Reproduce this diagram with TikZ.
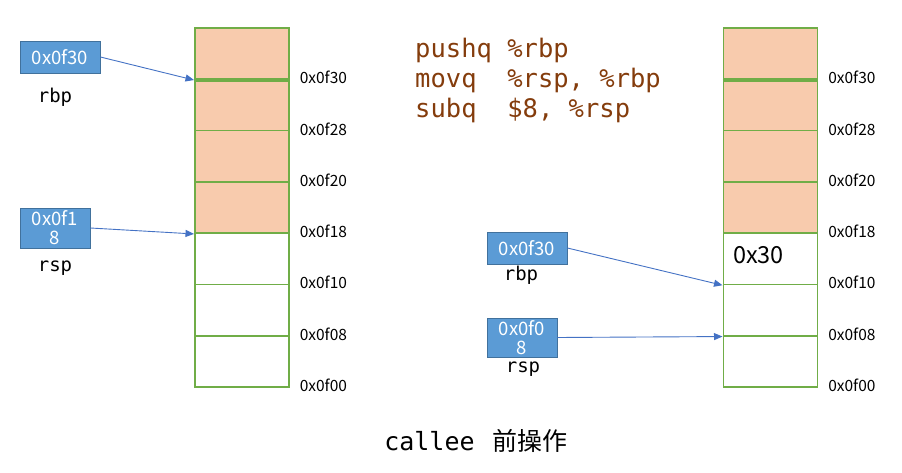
\documentclass[tikz,border=0pt]{standalone}
\usepackage{fontspec}
\setmainfont{Noto Sans CJK SC}
\newfontfamily\codefont{DejaVu Sans Mono}
\usepackage{tikz}
\usetikzlibrary{arrows.meta}
\usetikzlibrary{positioning}

\definecolor{peach}{HTML}{F8CBAD}
\definecolor{stackgreen}{HTML}{70AD47}
\definecolor{regblue}{HTML}{5B9BD5}
\definecolor{regborder}{HTML}{41719C}
\definecolor{arrowblue}{HTML}{4472C4}
\definecolor{codebrown}{HTML}{843C0C}

\begin{document}
\begin{tikzpicture}[x=1pt,y=-1pt,>={Triangle[length=8.5pt,width=7pt]},node distance=51.3pt,
	cell/.style={draw=stackgreen,line width=1.6pt,minimum width=94pt,minimum height=51.3pt,inner sep=0pt},
	used/.style={cell,fill=peach},
	addr/.style={font=\fontsize{15.5}{17}\selectfont,inner sep=0pt,yshift=2.5pt},
	reg/.style={draw=regborder,fill=regblue,text=white,line width=0.8pt,inner sep=0pt,align=center,font=\fontsize{18.5}{19}\selectfont},
	regname/.style={font=\codefont\fontsize{19}{20}\selectfont,inner sep=0pt}]

				\useasboundingbox (0,0) rectangle (902,473);

				% left stack
				\node[used] (L1) at (241.8,53.6) {};
				\node[used] (L2) [below of = L1] {};
				\node[used] (L3) [below of = L2] {};
				\node[used] (L4) [below of = L3] {};
				\node[cell] (L5) [below of = L4] {};
				\node[cell] (L6) [below of = L5] {};
				\node[cell] (L7) [below of = L6] {};
				\draw[stackgreen,line width=3pt] (L1.south west) -- (L1.south east);

				\node[addr] (La1) [right=10pt of L1.south east] {0x0f30};
				\node[addr] (La2) [right=10pt of L2.south east] {0x0f28};
				\node[addr] (La3) [right=10pt of L3.south east] {0x0f20};
				\node[addr] (La4) [right=10pt of L4.south east] {0x0f18};
				\node[addr] (La5) [right=10pt of L5.south east] {0x0f10};
				\node[addr] (La6) [right=10pt of L6.south east] {0x0f08};
				\node[addr] (La7) [right=10pt of L7.south east] {0x0f00};

				% right stack
				\node[used] (R1) at (770.3,53.6) {};
				\node[used] (R2) [below of = R1] {};
				\node[used] (R3) [below of = R2] {};
				\node[used] (R4) [below of = R3] {};
				\node[cell] (R5) [below of = R4] {};
				\node[cell] (R6) [below of = R5] {};
				\node[cell] (R7) [below of = R6] {};
				\draw[stackgreen,line width=3pt] (R1.south west) -- (R1.south east);
				\node[anchor=west,inner sep=0pt,font=\fontsize{23.5}{25}\selectfont] (val) at (733,255) {0x30};

				\node[addr] (Ra1) [right=10pt of R1.south east] {0x0f30};
				\node[addr] (Ra2) [right=10pt of R2.south east] {0x0f28};
				\node[addr] (Ra3) [right=10pt of R3.south east] {0x0f20};
				\node[addr] (Ra4) [right=10pt of R4.south east] {0x0f18};
				\node[addr] (Ra5) [right=10pt of R5.south east] {0x0f10};
				\node[addr] (Ra6) [right=10pt of R6.south east] {0x0f08};
				\node[addr] (Ra7) [right=10pt of R7.south east] {0x0f00};

				% registers
				\node[reg,minimum width=80pt,minimum height=32pt] (rbpL) at (60,57) {0x0f30};
				\node[regname] (rbpnameL) at (55,97) {rbp};
				\node[reg,minimum width=70pt,minimum height=40pt] (rspL) at (55,228) {0x0f1\\8};
				\node[regname] (rspnameL) at (55,268) {rsp};

				\node[reg,minimum width=80pt,minimum height=32pt] (rbpR) at (527,248) {0x0f30};
				\node[regname] (rbpnameR) at (521,275) {rbp};
				\node[reg,minimum width=70pt,minimum height=39pt] (rspR) at (522,337.5) {0x0f0\\8};
				\node[regname] (rspnameR) at (523,369) {rsp};

				\path[->,arrowblue,line width=0.9pt]
				(rbpL.east) edge (L1.south west)
				(rspL.east) edge (L4.south west)
				(rbpR.east) edge (R5.south west)
				(rspR.east) edge (R6.south west);

				% code
				\node[anchor=west,align=left,inner sep=0pt,text=codebrown,font=\codefont\fontsize{25.5}{30}\selectfont] (code) at (415,80)
				{pushq \%rbp\\movq\ \ \%rsp, \%rbp\\subq\ \ \$8, \%rsp};

				\node[font=\fontsize{25}{28}\selectfont] (caption) at (476,441) {{\codefont callee\ }\hspace{3pt}前操作};

\end{tikzpicture}
\end{document}
